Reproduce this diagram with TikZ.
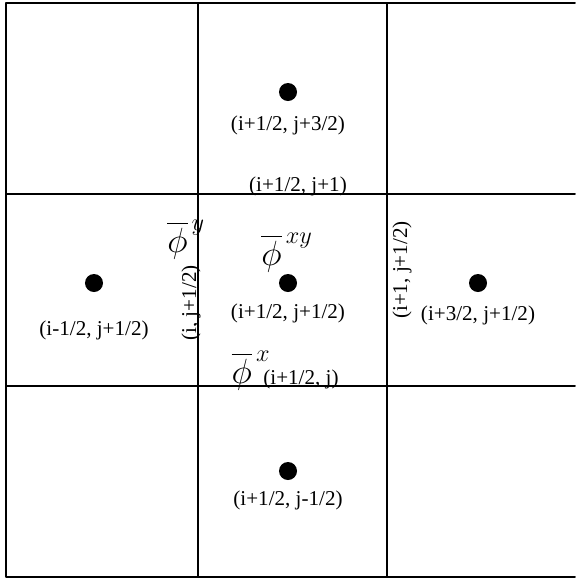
\documentclass[tikz,border=0pt]{standalone}
\usepackage{amsmath}
\usepackage{fontspec}
\setmainfont{Liberation Serif}
\usetikzlibrary{positioning}

\tikzset{
  gridline/.style={line width=1.4pt},
  dotpt/.style={circle, fill=black, inner sep=0pt, minimum size=0.45cm},
  celllabel/.style={inner sep=1pt, font=\fontsize{15}{18}\selectfont},
  philabel/.style={inner sep=0pt, font=\fontsize{26}{30}\selectfont},
}

\begin{document}
\begin{tikzpicture}[x=0.025cm, y=-0.025cm, line cap=round, line join=round]
  \useasboundingbox (0,0) rectangle (575,580);

  % grid of cells
  \draw[gridline] (575,3) -- (6,3) -- (6,577) -- (575,577);
  \draw[gridline] (198,3) -- (198,577);
  \draw[gridline] (387,3) -- (387,577);
  \draw[gridline] (6,194) -- (575,194);
  \draw[gridline] (6,386) -- (575,386);

  % cell centres
  \node[dotpt] (top) at (288,92) {};
  \node[dotpt] (left) at (94,283) {};
  \node[dotpt] (mid) at (288,283) {};
  \node[dotpt] (right) at (478,283) {};
  \node[dotpt] (bot) at (288,471) {};

  \node[celllabel] (toplab) at (288,125) {(i+1/2, j+3/2)};
  \node[celllabel] (leftlab) at (94,330) {(i-1/2, j+1/2)};
  \node[celllabel] (midlab) at (288,313) {(i+1/2, j+1/2)};
  \node[celllabel] (rightlab) at (478,315) {(i+3/2, j+1/2)};
  \node[celllabel] (botlab) at (288,500) {(i+1/2, j-1/2)};

  % faces
  \node[celllabel] (facen) at (298,186) {(i+1/2, j+1)};
  \node[celllabel] (faces) at (301,379) {(i+1/2, j)};
  \node[celllabel, rotate=90] (facew) at (191,303) {(i, j+1/2)};
  \node[celllabel, rotate=90] (facee) at (402,270) {(i+1, j+1/2)};

  % averaged values
  \node[philabel] (phiy) at (186,240) {$\overline{\phi}^{\,y}$};
  \node[philabel] (phixy) at (287,253) {$\overline{\phi}^{\,xy}$};
  \node[philabel] (phix) at (251,371) {$\overline{\phi}^{\,x}$};
\end{tikzpicture}
\end{document}
